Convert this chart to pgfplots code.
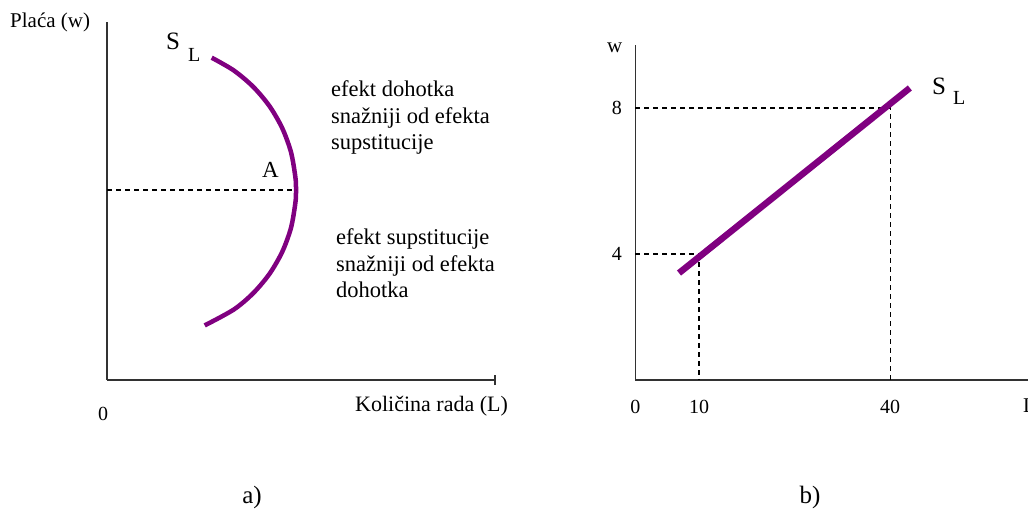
\documentclass[border=0pt]{standalone}
\usepackage{pgfplots}
\pgfplotsset{compat=1.18}
\usepackage{fontspec}
\setmainfont{Liberation Serif}
\definecolor{curvepurple}{RGB}{128,0,128}
\definecolor{axisgray}{RGB}{50,50,50}
\newcommand\fs[1]{\fontsize{#1}{#1}\selectfont}
\begin{document}
\begin{tikzpicture}[x=1pt,y=1pt]

% ---------- panel a) ----------
\begin{axis}[
  at={(107pt,137pt)}, anchor=south west,
  x=1pt, y=1pt,
  xmin=0, xmax=388, ymin=0, ymax=358,
  axis x line=bottom, axis y line=left,
  axis line style={-, line width=1.6pt, axisgray},
  xtick={0}, xticklabels={0}, ytick=\empty,
  major tick length=0pt,
  extra x ticks={388}, extra x tick labels={},
  extra x tick style={major tick length=10pt, tick align=center, tick style={line width=1.2pt, axisgray}},
  xticklabel style={anchor=base, yshift=-40pt, xshift=-4pt, font=\fs{20}},
  /pgf/number format/assume math mode=true,
  clip=false,
]
\addplot[curvepurple, line width=4.5pt, smooth] coordinates {
 (104.7,322.3)(126.7,309.6)(146.2,293.2)(162.6,273.7)(175.3,251.7)(184.0,227.8)
 (188.4,202.7)(189,190)(188.4,177.3)(184.0,152.2)(175.3,128.3)(162.6,106.3)
 (146.2,86.8)(126.7,70.4)(97.7,54.6)};
\addplot[black, line width=1.2pt, dash pattern=on 5pt off 4pt] coordinates {(0,190)(189,190)};
\end{axis}

% ---------- panel b) ----------
\begin{axis}[
  at={(635.3pt,137pt)}, anchor=south west,
  x=6.37pt, y=36.5pt,
  xmin=0, xmax=61.7, ymin=0.55, ymax=9.73,
  axis x line=bottom, axis y line=left,
  axis line style={-, line width=1.6pt, axisgray},
  xtick={0,10,40}, ytick={4,8},
  major tick length=0pt,
  xticklabel style={anchor=base, yshift=-33pt, font=\fs{20}},
  yticklabel style={anchor=east, xshift=-10pt, font=\fs{20}},
  /pgf/number format/assume math mode=true,
  clip=false,
]
\addplot[black, line width=1.2pt, dash pattern=on 5pt off 4pt] coordinates {(0,8)(40,8)(40,0.55)};
\addplot[black, line width=1.2pt, dash pattern=on 5pt off 4pt] coordinates {(0,4)(10,4)(10,0.55)};
\addplot[curvepurple, line width=6.5pt] coordinates {(6.86,3.48)(43.1,8.55)};
\end{axis}

% ---------- texts ----------
\node[anchor=base west, inner sep=0pt, font=\fs{21}] at (10,489) {Plaća (w)};
\node[anchor=base west, inner sep=0pt, font=\fs{25}] at (166,467) {S};
\node[anchor=base west, inner sep=0pt, font=\fs{20}] at (188,455) {L};
\node[anchor=base west, inner sep=0pt, font=\fs{22.5}] at (331,420) {efekt dohotka};
\node[anchor=base west, inner sep=0pt, font=\fs{22.5}] at (331,393) {snažniji od efekta};
\node[anchor=base west, inner sep=0pt, font=\fs{22.5}] at (331,367) {supstitucije};
\node[anchor=base west, inner sep=0pt, font=\fs{22.5}] at (336,272) {efekt supstitucije};
\node[anchor=base west, inner sep=0pt, font=\fs{22.5}] at (336,245) {snažniji od efekta};
\node[anchor=base west, inner sep=0pt, font=\fs{22.5}] at (336,219) {dohotka};
\node[anchor=base west, inner sep=0pt, font=\fs{23}] at (262,339) {A};
\node[anchor=base west, inner sep=0pt, font=\fs{22}] at (355,105) {Količina rada (L)};
\node[anchor=base west, inner sep=0pt, font=\fs{21}] at (607,464) {w};
\node[anchor=base west, inner sep=0pt, font=\fs{25}] at (932,422) {S};
\node[anchor=base west, inner sep=0pt, font=\fs{20}] at (953,412) {L};
\node[anchor=base west, inner sep=0pt, font=\fs{21}] at (1023,104) {L};
\node[anchor=base, inner sep=0pt, font=\fs{25}] at (252,14) {a)};
\node[anchor=base, inner sep=0pt, font=\fs{25}] at (810,14) {b)};

\pgfresetboundingbox
\path[use as bounding box] (0,0) rectangle (1028,517);
\end{tikzpicture}
\end{document}
